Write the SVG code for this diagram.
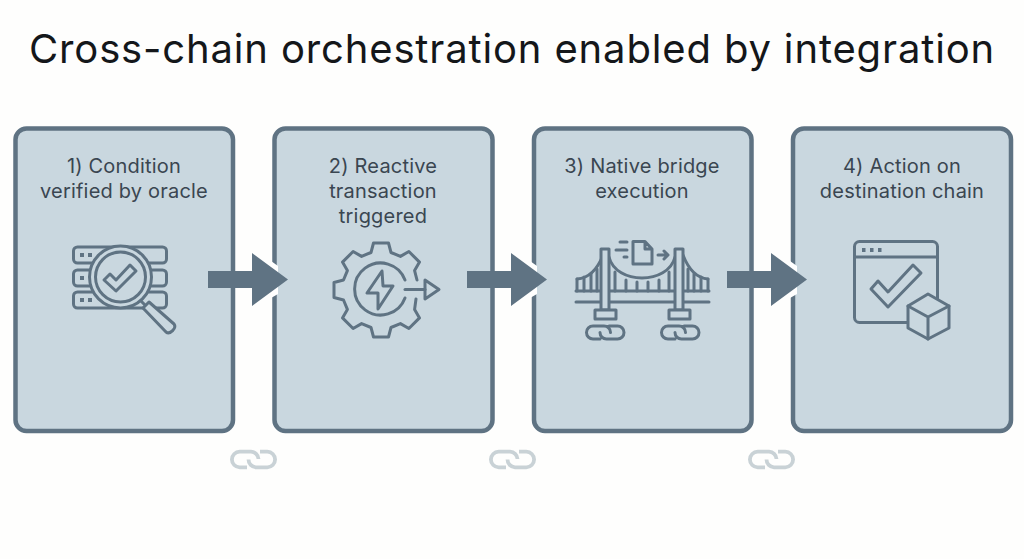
<svg xmlns="http://www.w3.org/2000/svg" xmlns:xlink="http://www.w3.org/1999/xlink" width="1024" height="559" viewBox="0 0 1024 559">
<style>
.box{fill:#c9d7df;stroke:#5f7383;stroke-width:4.500}
.lb{font-family:"Inter","Liberation Sans",sans-serif;font-size:20px;letter-spacing:0.2px;fill:#3a4651;text-anchor:middle}
.ttl{font-family:"Inter","Liberation Sans",sans-serif;font-size:40px;letter-spacing:0.85px;fill:#14171a;text-anchor:middle}
.ic{fill:none;stroke:#5f7383;stroke-width:3;stroke-linejoin:round;stroke-linecap:round}
.icf{fill:#c9d7df;stroke:#5f7383;stroke-width:3;stroke-linejoin:round;stroke-linecap:round}
.dot{fill:#5f7383}
.arr{fill:#5f7383}
.gap{fill:#fff}
.lnk{fill:none;stroke:#c9d2d6;stroke-width:3.800;stroke-linecap:butt}
</style>
<defs>
<g id="chain"><path class="lnk" d="M247 467.300H239.700A7.800 7.800 0 0 1 239.700 451.700H251A7.800 7.800 0 0 1 258.500 459"/><path class="lnk" d="M260 451.700H267.300A7.800 7.800 0 0 1 267.300 467.300H256A7.800 7.800 0 0 1 248.500 459.500"/></g>
<polygon id="arrow" class="arr" points="208,271 252,271 252,253 288,279.500 252,306 252,288 208,288"/>
</defs>
<rect width="1024" height="559" fill="#fefefd"/>
<text class="ttl" x="512" y="63">Cross-chain orchestration enabled by integration</text>

<g id="node1"><rect class="box" x="15.500" y="128.500" width="217.500" height="302.500" rx="11"/>
<text class="lb" x="124" y="173">1) Condition</text><text class="lb" x="124" y="198">verified by oracle</text>
<g>
<rect class="ic" x="73.500" y="247" width="93" height="16" rx="4"/><rect class="ic" x="73.500" y="270" width="93" height="16" rx="4"/><rect class="ic" x="73.500" y="292" width="93" height="16" rx="4"/>
<rect class="dot" x="80" y="253" width="4" height="4"/><rect class="dot" x="88" y="253" width="4" height="4"/><rect class="dot" x="80" y="276" width="4" height="4"/><rect class="dot" x="80" y="298" width="4" height="4"/><rect class="dot" x="88" y="298" width="4" height="4"/>
<circle class="icf" cx="120.500" cy="277" r="31"/><circle class="ic" cx="120.500" cy="277" r="25"/>
<polygon class="ic" points="104,280 110,274 116,280 130,265 136,271 116,291"/>
<path class="ic" d="M141 301L146 306"/>
<path class="icf" d="M143 308L149 302L174 324C177 328 170 335 166 332Z"/>
</g></g>

<g id="node2"><rect class="box" x="274.500" y="128.500" width="218" height="302.500" rx="11"/>
<text class="lb" x="383" y="173">2) Reactive</text><text class="lb" x="383" y="198">transaction</text><text class="lb" x="383" y="223">triggered</text>
<g>
<path class="ic" d="M417 280L414.600 270.600L419.500 262.100L408.900 251.500L400.400 256.400L391 252.500L388.500 243L373.500 243L371 252.500L361.600 256.400L353.100 251.500L342.500 262.100L347.400 270.600L343.500 280L334 282.500L334 297.500L343.500 300L347.400 309.400L342.500 317.900L353.100 328.500L361.600 323.600L371 327.500L373.500 337L388.500 337L391 327.500L400.400 323.600L408.900 328.500L419.500 317.900L414.600 309.400L416 299"/>
<path class="ic" d="M405 280A26 26 0 1 0 405 298"/>
<path class="ic" d="M405 289.500H425"/><polygon class="ic" points="425,280 439,289.500 425,299"/>
<polygon class="ic" points="382,271 367,293 378,293 378,309 393,286 383,286"/>
</g></g>

<g id="node3"><rect class="box" x="534" y="128.500" width="217.500" height="302.500" rx="11"/>
<text class="lb" x="642" y="173">3) Native bridge</text><text class="lb" x="642" y="198">execution</text>
<g>
<path class="ic" d="M577 279C590 278 598 268 603 255M609 257C616 285 668 285 675 257M683 255C688 268 696 278 708 279"/>
<path class="ic" d="M577 279V291M584 277V291M591 274V291M597 269V291M615 272V291M626 280V291M637 282V291M648 282V291M659 280V291M669 272V291M688 269V291M694 274V291M701 277V291M708 279V291"/>
<path class="ic" d="M576 291H709M576 302H709"/>
<rect class="icf" x="601" y="249" width="8" height="61"/><rect class="icf" x="675" y="249" width="8" height="61"/>
<rect class="icf" x="595" y="310" width="21" height="9"/><rect class="icf" x="669" y="310" width="21" height="9"/>
<path class="ic" d="M600 339H593A6.500 6.500 0 0 1 593 326H604A6.500 6.500 0 0 1 610.500 332.500M609 326H617.500A6.500 6.500 0 0 1 617.500 339H606.500A6.500 6.500 0 0 1 600 332.500"/>
<path class="ic" d="M675 339H668A6.500 6.500 0 0 1 668 326H679A6.500 6.500 0 0 1 685.500 332.500M684 326H692.500A6.500 6.500 0 0 1 692.500 339H681.500A6.500 6.500 0 0 1 675 332.500"/>
<path class="ic" d="M633 241.500H645L652 249V264H633ZM645 241.500V249H652"/>
<path class="ic" d="M620 242H627M616 250H627M624 257H627M658 255H667M664 251L668 255L664 259"/>
</g></g>

<g id="node4"><rect class="box" x="793" y="128.500" width="218" height="302.500" rx="11"/>
<text class="lb" x="902" y="173">4) Action on</text><text class="lb" x="902" y="198">destination chain</text>
<g>
<rect class="ic" x="854.500" y="241.500" width="83" height="81" rx="5"/>
<path class="ic" d="M855 257H937"/>
<rect class="dot" x="862" y="248" width="3.500" height="4"/><rect class="dot" x="870" y="248" width="3.500" height="4"/><rect class="dot" x="878" y="248" width="3.500" height="4"/>
<polygon class="ic" points="871,289 878,281 888,292 913,265 921,273 888,307"/>
<polygon class="icf" points="928,294 949,306 949,328 928,339 908,328 908,306"/>
<path class="ic" d="M908 306L928 317L949 306M928 317V339"/>
</g></g>

<g id="connectors">
<path class="gap" d="M271 261L278 266V294L271 298Z"/>
<path class="gap" d="M530 261L537 266V294L530 298Z"/>
<path class="gap" d="M790 261L797 266V294L790 298Z"/>
<use xlink:href="#arrow" href="#arrow"/>
<use xlink:href="#arrow" href="#arrow" x="259"/>
<use xlink:href="#arrow" href="#arrow" x="519"/>
</g>
<g id="chains">
<use xlink:href="#chain" href="#chain"/>
<use xlink:href="#chain" href="#chain" x="259"/>
<use xlink:href="#chain" href="#chain" x="518"/>
</g>
</svg>
